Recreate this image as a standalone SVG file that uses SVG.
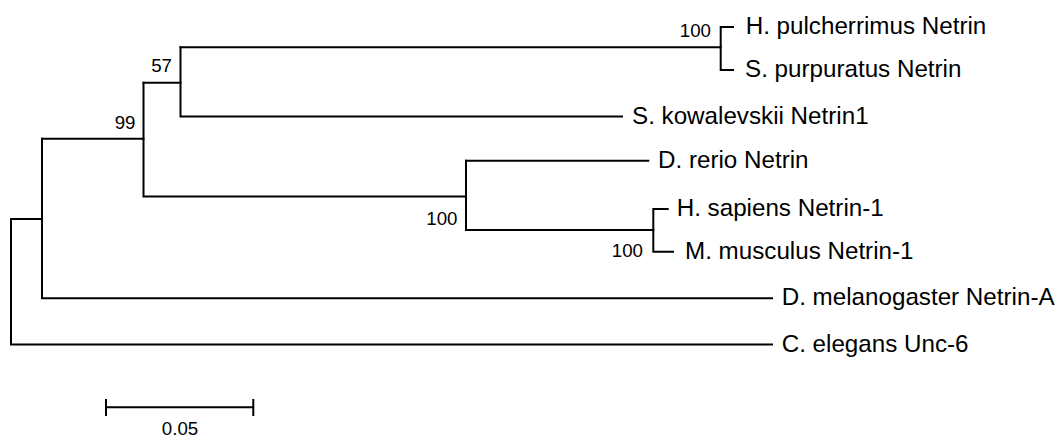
<svg xmlns="http://www.w3.org/2000/svg" width="1061" height="437" viewBox="0 0 1061 437">
  <style>
    .br { fill: none; stroke: #000; stroke-width: 2; stroke-linecap: square; }
    .tx { font-family: "Liberation Sans", Arial, sans-serif; font-size: 24.2px; fill: #000; }
    .bs { font-family: "Liberation Sans", Arial, sans-serif; font-size: 18.7px; fill: #000; }
  </style>
  <rect width="1061" height="437" fill="#fff"/>

  <!-- tree branches -->
  <g id="connectors" class="br">
    <!-- root -->
    <path d="M11 219 V344.5 H772"/>
    <path d="M11 219 H42"/>
    <!-- node 99 -->
    <path d="M42 138.7 V298.3 H772"/>
    <path d="M42 138.7 H143.5"/>
    <path d="M143.5 82.7 V196.5 H466"/>
    <!-- node 57 -->
    <path d="M143.5 82.7 H180.5"/>
    <path d="M180.5 47.3 V116.5 H622"/>
    <path d="M180.5 47.3 H720.7"/>
    <!-- urchin pair -->
    <path d="M733 27 H720.7 V70 H733"/>
    <!-- vertebrate clade -->
    <path d="M466 160.7 V230 H653.3"/>
    <path d="M466 160.7 H648.3"/>
    <path d="M667.7 209 H653.3 V251.7 H673"/>
  </g>

  <!-- leaves -->
  <g id="leaf-hpul"><text class="tx" x="745.7" y="34">H. pulcherrimus Netrin</text></g>
  <g id="leaf-spur"><text class="tx" x="745" y="77">S. purpuratus Netrin</text></g>
  <g id="leaf-skow"><text class="tx" x="632" y="123.5">S. kowalevskii Netrin1</text></g>
  <g id="leaf-drer"><text class="tx" x="658" y="167.7">D. rerio Netrin</text></g>
  <g id="leaf-hsap"><text class="tx" x="676.7" y="216">H. sapiens Netrin-1</text></g>
  <g id="leaf-mmus"><text class="tx" x="685" y="258.7">M. musculus Netrin-1</text></g>
  <g id="leaf-dmel"><text class="tx" x="781.7" y="305.3">D. melanogaster Netrin-A</text></g>
  <g id="leaf-cele"><text class="tx" x="781.7" y="351.5">C. elegans Unc-6</text></g>

  <!-- bootstrap support -->
  <g id="support">
    <text class="bs" x="711" y="36.8" text-anchor="end">100</text>
    <text class="bs" x="172" y="72.3" text-anchor="end">57</text>
    <text class="bs" x="135.5" y="129" text-anchor="end">99</text>
    <text class="bs" x="457.5" y="224.5" text-anchor="end">100</text>
    <text class="bs" x="643" y="257.3" text-anchor="end">100</text>
  </g>

  <!-- scale bar -->
  <g id="scale-bar">
    <path class="br" d="M106 407.3 H253.3 M106 400 V415 M253.3 400 V415"/>
    <text class="bs" x="180" y="434.5" text-anchor="middle">0.05</text>
  </g>
</svg>
